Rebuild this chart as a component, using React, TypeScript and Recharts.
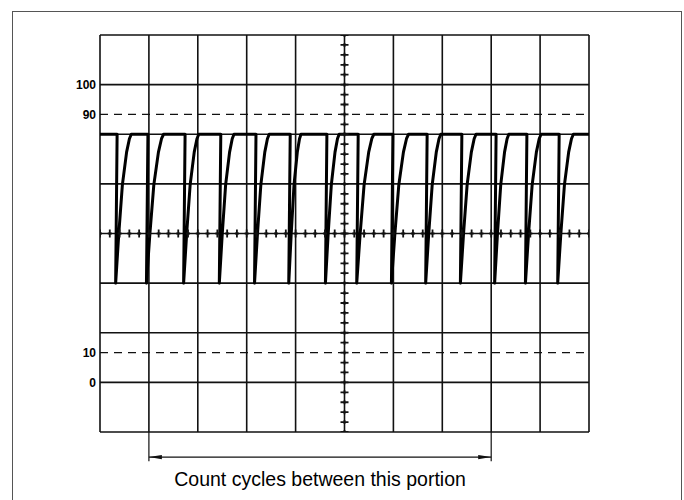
import React from "react"
import {
  ComposedChart,
  Line,
  Scatter,
  XAxis,
  YAxis,
  ReferenceLine,
  ReferenceDot,
} from "recharts"

// screen is 10 x 8 divisions, 0 % sits one division above the bottom, 100 % six divisions higher
const DIV = 100 / 6
const Y_MIN = -DIV
const Y_MAX = 7 * DIV
const Y_LABELS = [0, 10, 90, 100]
const DASHED = [10, 90]

// square wave levels (%)
const TOP = 5 * DIV
const BOTTOM = 2 * DIV

// where each cycle drops (div) and where its rise gets back to the top (div)
const FALLS = [0.35, 0.98, 1.74, 2.47, 3.19, 3.89, 4.64, 5.28, 5.99, 6.69, 7.4, 8.1, 8.73, 9.39]
const RISE_ENDS = [0.64, 1.3, 2.02, 2.74, 3.46, 4.11, 4.89, 5.6, 6.31, 6.97, 7.69, 8.36, 9.02, 9.68]
// shape of the rising edge: [fraction of rise time, fraction of amplitude]
const RISE_PROFILE = [
  [0, 0],
  [0.2, 0.33],
  [0.43, 0.66],
  [0.7, 0.88],
  [0.88, 0.97],
  [1, 1],
]

// bracket under the screen (div)
const BRACKET = [1, 8]
const BRACKET_Y = -25.1
const BRACKET_TICK_Y = -26.5

const trace: { x: number; y: number }[] = [{ x: 0, y: TOP }]
FALLS.forEach((f, i) => {
  const b = f - 0.03
  trace.push({ x: f, y: TOP })
  RISE_PROFILE.forEach(([t, a]) =>
    trace.push({ x: b + t * (RISE_ENDS[i] - b), y: BOTTOM + a * (TOP - BOTTOM) })
  )
})
trace.push({ x: 10, y: TOP })

const vLines = Array.from({ length: 11 }, (_, i) => i)
const hLines = Array.from({ length: 9 }, (_, i) => Y_MIN + i * DIV)
const vCenterTicks = Array.from({ length: 41 }, (_, i) => ({ x: 5, y: Y_MIN + (i * DIV) / 5 }))
const hCenterTicks = Array.from({ length: 51 }, (_, i) => ({ x: i / 5, y: 50 }))

const INK = "#111"

export default function App() {
  return (
    <div
      style={{
        position: "absolute",
        left: 0,
        top: 0,
        width: 684,
        height: 500,
        background: "#fff",
        overflow: "hidden",
      }}
    >
      <div
        style={{
          position: "absolute",
          left: 12,
          top: 11,
          width: 668,
          height: 520,
          border: "1px solid #555",
        }}
      />
      <ComposedChart
        width={684}
        height={500}
        margin={{ top: 35, right: 95, bottom: 68, left: 40 }}
        style={{ position: "absolute", left: 0, top: 0 }}
      >
        <XAxis type="number" dataKey="x" domain={[0, 10]} allowDataOverflow hide />
        <YAxis
          type="number"
          dataKey="y"
          domain={[Y_MIN, Y_MAX]}
          allowDataOverflow
          ticks={Y_LABELS}
          width={60}
          axisLine={false}
          tickLine={false}
          tickSize={3}
          tickMargin={1}
          tick={{ fill: "#000", fontSize: 12, fontWeight: 700, fontFamily: "Liberation Sans, Arial" }}
        />

        {/* graticule */}
        {vLines.map((x) => (
          <ReferenceLine key={`v${x}`} x={x} stroke={INK} strokeWidth={1.6} ifOverflow="visible" />
        ))}
        {hLines.map((y, i) => (
          <ReferenceLine key={`h${i}`} y={y} stroke={INK} strokeWidth={1.6} ifOverflow="visible" />
        ))}
        {DASHED.map((y) => (
          <ReferenceLine key={`d${y}`} y={y} stroke={INK} strokeWidth={1.4} strokeDasharray="8 6" />
        ))}

        {/* bracket */}
        <ReferenceLine
          segment={[
            { x: BRACKET[0], y: BRACKET_Y },
            { x: BRACKET[1], y: BRACKET_Y },
          ]}
          stroke={INK}
          strokeWidth={1.2}
          ifOverflow="visible"
          label={{
            value: "Count cycles between this portion",
            position: "bottom",
            offset: 15,
            fill: "#000",
            fontSize: 19.5,
            fontFamily: "Liberation Sans, Arial",
          }}
        />
        {BRACKET.map((x) => (
          <ReferenceLine
            key={`bt${x}`}
            segment={[
              { x, y: Y_MIN },
              { x, y: BRACKET_TICK_Y },
            ]}
            stroke={INK}
            strokeWidth={1.2}
            ifOverflow="visible"
          />
        ))}
        {BRACKET.map((x, i) => (
          <ReferenceDot
            key={`ba${x}`}
            x={x}
            y={BRACKET_Y}
            r={3}
            ifOverflow="visible"
            shape={(p: any) => {
              const d = i === 0 ? 1 : -1
              return (
                <path
                  d={`M${p.cx},${p.cy} L${p.cx + d * 13},${p.cy - 2.2} L${p.cx + d * 13},${p.cy + 2.2} Z`}
                  fill={INK}
                />
              )
            }}
          />
        ))}

        {/* centre-line minor ticks */}
        <Scatter
          data={vCenterTicks}
          isAnimationActive={false}
          shape={(p: any) => (
            <path
              d={`M${p.cx - 4},${p.cy} H${p.cx + 4} M${p.cx},${p.cy - 2} V${p.cy + 2}`}
              stroke={INK}
              strokeWidth={1.8}
            />
          )}
        />
        <Scatter
          data={hCenterTicks}
          isAnimationActive={false}
          shape={(p: any) => (
            <path
              d={`M${p.cx},${p.cy - 4} V${p.cy + 4} M${p.cx - 2},${p.cy} H${p.cx + 2}`}
              stroke={INK}
              strokeWidth={1.8}
            />
          )}
        />

        {/* waveform */}
        <Line
          data={trace}
          dataKey="y"
          type="linear"
          stroke="#000"
          strokeWidth={3}
          strokeLinejoin="round"
          dot={false}
          isAnimationActive={false}
        />
      </ComposedChart>
    </div>
  )
}
